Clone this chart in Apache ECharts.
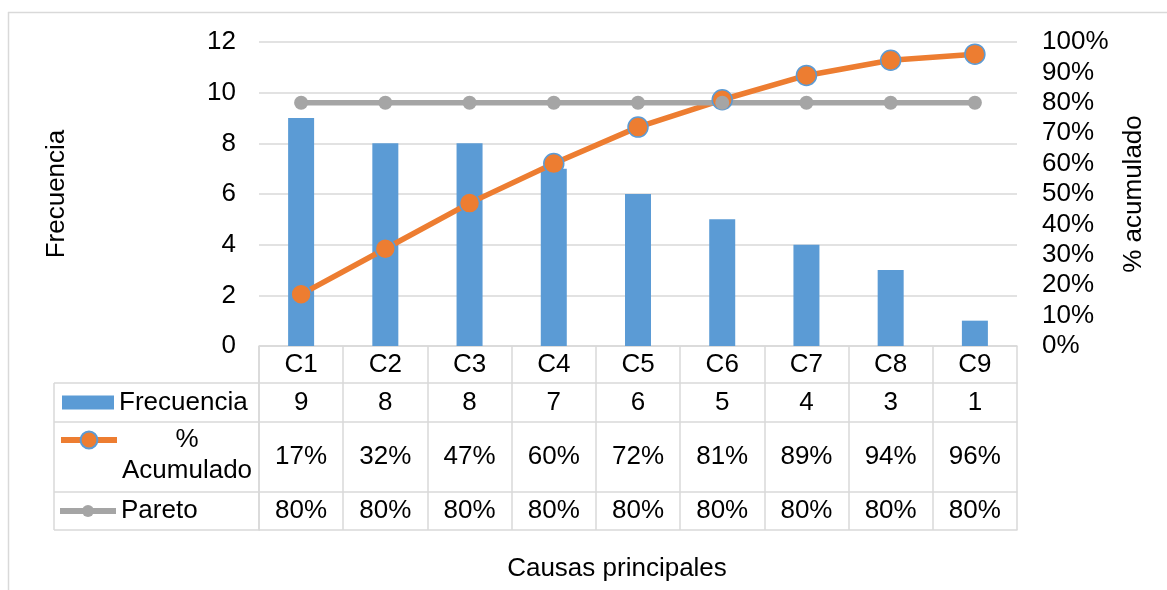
<!DOCTYPE html>
<html>
<head>
<meta charset="utf-8">
<script src="https://cdn.jsdelivr.net/npm/echarts@6/dist/echarts.min.js"></script>
<style>
  html, body { margin: 0; padding: 0; background: #ffffff; }
  #chart { width: 1167px; height: 590px; }
</style>
</head>
<body>
<div id="chart"></div>
<script>
// Causes and their counts, sorted for the Pareto analysis
const categories = ['C1', 'C2', 'C3', 'C4', 'C5', 'C6', 'C7', 'C8', 'C9'];
const frecuencia = [9, 8, 8, 7, 6, 5, 4, 3, 1];
// Cumulative share (%) and the 80 % Pareto cut-off
const acumulado = [17, 32, 47, 60, 72, 81, 89, 94, 96];
const pareto = [80, 80, 80, 80, 80, 80, 80, 80, 80];
// Axis ranges
const freqAxis = { min: 0, max: 12, step: 2 };
const pctAxis = { min: 0, max: 100, step: 10 };

const FONT = "'Liberation Sans', Arial, sans-serif";
const TEXT = '#000000';
const GRID = '#d9d9d9';
const BLUE = '#5b9bd5';
const ORANGE = '#ed7d31';
const GRAY = '#a5a5a5';
const FS = 26;

// Plot rectangle
const plot = { left: 259, right: 150, top: 42, bottom: 244 };
const tableTop = 590 - plot.bottom;           // y of the category header line
const rowH = [37, 39, 70, 38];                // header, frecuencia, acumulado, pareto
const rowY = [tableTop];
rowH.forEach(h => rowY.push(rowY[rowY.length - 1] + h));
const legendLeft = 54;

// One category axis per table row: its line is the row's top border,
// its ticks are the cell dividers and its labels are the cell values.
function rowAxis(i, labels) {
  const h = rowH[i];
  return {
    type: 'category',
    gridIndex: 0,
    position: 'bottom',
    offset: rowY[i] - tableTop,
    data: categories,
    boundaryGap: true,
    axisLine: { show: true, onZero: false, lineStyle: { color: GRID, width: 1.5 } },
    axisTick: { show: true, length: h, interval: 0, alignWithLabel: false, lineStyle: { color: GRID, width: 1.5 } },
    axisLabel: {
      show: true, interval: 0, margin: h / 2 - FS / 2, fontSize: FS, lineHeight: FS,
      color: TEXT, fontFamily: FONT,
      formatter: (v, idx) => labels ? labels[idx] : v
    },
    splitLine: { show: false }
  };
}

const xAxes = [
  rowAxis(0, null),
  rowAxis(1, frecuencia.map(String)),
  rowAxis(2, acumulado.map(v => v + '%')),
  rowAxis(3, pareto.map(v => v + '%')),
  {
    type: 'category', gridIndex: 0, position: 'bottom', offset: rowY[4] - tableTop,
    data: categories,
    axisLine: { show: true, onZero: false, lineStyle: { color: GRID, width: 1.5 } },
    axisTick: { show: false }, axisLabel: { show: false }, splitLine: { show: false }
  }
];

// Borders of the legend column on the left of the table
const legendLines = [];
for (let i = 1; i < rowY.length; i++) {
  legendLines.push({ x1: legendLeft, y1: rowY[i], x2: plot.left + 1, y2: rowY[i] });
}
legendLines.push({ x1: legendLeft, y1: rowY[1], x2: legendLeft, y2: rowY[4] });
legendLines.push({ x1: plot.left, y1: rowY[0], x2: plot.left, y2: rowY[4] });

const graphic = [
  // chart frame
  { type: 'line', shape: { x1: 8, y1: 12.5, x2: 1167, y2: 12.5 }, style: { stroke: GRID, lineWidth: 1.5 }, silent: true },
  { type: 'line', shape: { x1: 8.5, y1: 12, x2: 8.5, y2: 590 }, style: { stroke: GRID, lineWidth: 1.5 }, silent: true }
].concat(legendLines.map(s => ({
  type: 'line', shape: s, style: { stroke: GRID, lineWidth: 1.5 }, silent: true
}))).concat([
  {
    type: 'text', x: 617, y: 569,
    style: { text: 'Causas principales', font: FS + 'px ' + FONT, fill: TEXT, align: 'center', verticalAlign: 'middle' },
    silent: true
  }
]);

const rowCenter = i => (rowY[i] + rowY[i + 1]) / 2;

const option = {
  animation: false,
  backgroundColor: '#ffffff',
  textStyle: { fontFamily: FONT },
  grid: { left: plot.left, right: plot.right, top: plot.top, bottom: plot.bottom, containLabel: false },
  legend: [
    {
      data: ['Frecuencia'], selectedMode: false, orient: 'horizontal',
      left: 62, top: rowCenter(1) - 15, padding: 0,
      icon: 'rect', itemWidth: 52, itemHeight: 14,
      textStyle: { fontSize: FS, lineHeight: 30, color: TEXT, fontFamily: FONT }
    },
    {
      data: ['% Acumulado'], selectedMode: false, orient: 'horizontal',
      left: 58, top: 393.5, padding: 0,
      itemWidth: 56, itemHeight: 21,
      lineStyle: { width: 6 },
      formatter: () => '{c|%}\n{c|Acumulado}',
      textStyle: {
        fontSize: FS, lineHeight: 31, color: TEXT, fontFamily: FONT, padding: [31, 0, 0, 0],
        rich: { c: { align: 'center', fontSize: FS, lineHeight: 31, color: TEXT, fontFamily: FONT } }
      }
    },
    {
      data: ['Pareto'], selectedMode: false, orient: 'horizontal',
      left: 57, top: rowCenter(3) - 15, padding: 0,
      itemWidth: 56, itemHeight: 15,
      lineStyle: { width: 6 },
      textStyle: { fontSize: FS, lineHeight: 30, color: TEXT, fontFamily: FONT }
    }
  ],
  xAxis: xAxes,
  yAxis: [
    {
      type: 'value', min: freqAxis.min, max: freqAxis.max, interval: freqAxis.step,
      position: 'left',
      name: 'Frecuencia', nameLocation: 'middle', nameRotate: 90, nameGap: 189,
      nameTextStyle: { fontSize: FS, color: TEXT, fontFamily: FONT },
      axisLine: { show: false }, axisTick: { show: false },
      axisLabel: { fontSize: FS, color: TEXT, margin: 23, fontFamily: FONT },
      splitLine: { show: true, lineStyle: { color: GRID, width: 1.5 } }
    },
    {
      type: 'value', min: pctAxis.min, max: pctAxis.max, interval: pctAxis.step,
      position: 'right',
      name: '% acumulado', nameLocation: 'middle', nameRotate: 90, nameGap: 104,
      nameTextStyle: { fontSize: FS, color: TEXT, fontFamily: FONT },
      axisLine: { show: false }, axisTick: { show: false },
      axisLabel: { fontSize: FS, color: TEXT, margin: 25, fontFamily: FONT, formatter: '{value}%' },
      splitLine: { show: false }
    }
  ],
  graphic: graphic,
  series: [
    {
      name: 'Frecuencia', type: 'bar', xAxisIndex: 0, yAxisIndex: 0,
      data: frecuencia, barWidth: 26,
      itemStyle: { color: BLUE }
    },
    {
      name: '% Acumulado', type: 'line', xAxisIndex: 0, yAxisIndex: 1,
      data: acumulado, symbol: 'circle', symbolSize: 20, showSymbol: true,
      lineStyle: { color: ORANGE, width: 5.5 },
      itemStyle: { color: ORANGE, borderColor: BLUE, borderWidth: 1.5 }
    },
    {
      name: 'Pareto', type: 'line', xAxisIndex: 0, yAxisIndex: 1,
      data: pareto, symbol: 'circle', symbolSize: 14, showSymbol: true,
      lineStyle: { color: GRAY, width: 5.5 },
      itemStyle: { color: GRAY }
    }
  ]
};

const chart = echarts.init(document.getElementById('chart'), null, { renderer: 'canvas' });
chart.setOption(option);
</script>
</body>
</html>
